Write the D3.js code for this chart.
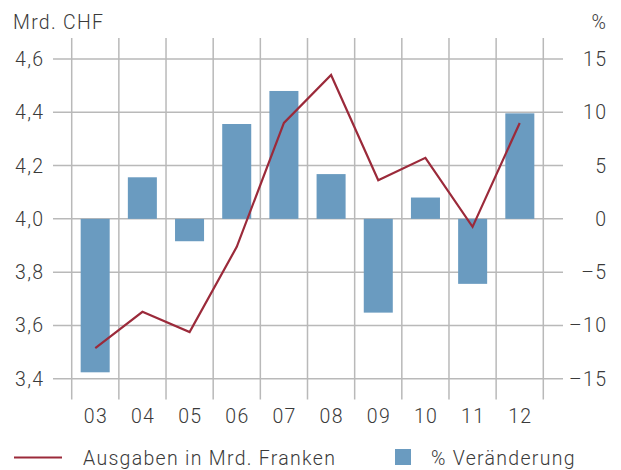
<!DOCTYPE html>
<html>
<head>
<meta charset="utf-8">
<script src="https://cdn.jsdelivr.net/npm/d3@7"></script>
<style>
  body { margin: 0; background: #fff; }
  svg text { font-family: Roboto, "Liberation Sans", sans-serif; font-weight: 300; fill: #3a3a3a; letter-spacing: 1.3px; }
</style>
</head>
<body>
<div id="chart"></div>
<script>
// data
var years = ["03", "04", "05", "06", "07", "08", "09", "10", "11", "12"];
var ausgaben = [3.515, 3.651, 3.575, 3.895, 4.36, 4.54, 4.145, 4.229, 3.97, 4.36];   // Mrd. CHF
var veraenderung = [-14.4, 3.9, -2.1, 8.9, 12.0, 4.2, -8.8, 2.0, -6.1, 9.9];         // %
var leftTicks = [3.4, 3.6, 3.8, 4.0, 4.2, 4.4, 4.6];
var rightTicks = [-15, -10, -5, 0, 5, 10, 15];

var W = 621, H = 470;
var lineColor = "#9b2a3a",
    barColor = "#6a9bc0",
    gridColor = "#b9b9b9";

var svg = d3.select("#chart").append("svg")
    .attr("width", W)
    .attr("height", H);

// scales
var x = d3.scaleBand()
    .domain(years)
    .range([71.7, 543.3])
    .paddingInner(0.385)
    .paddingOuter(0.19);

var xb = d3.scaleBand().domain(years).range([71.7, 543.3]);  // grid cells

var yL = d3.scaleLinear().domain([3.4, 4.6]).range([378.7, 59]);
var yR = d3.scaleLinear().domain([-15, 15]).range([378.7, 59]);

var fmt = function(d) { return d3.format(".1f")(d).replace(".", ","); };

// horizontal grid
svg.append("g").selectAll("line")
    .data(leftTicks)
    .enter().append("line")
    .attr("x1", 53).attr("x2", 563)
    .attr("y1", function(d) { return yL(d); })
    .attr("y2", function(d) { return yL(d); })
    .attr("stroke", gridColor)
    .attr("stroke-width", 1.5);

// vertical grid
var vx = years.map(function(d) { return xb(d); }).concat([xb.range()[1]]);
svg.append("g").selectAll("line")
    .data(vx)
    .enter().append("line")
    .attr("x1", function(d) { return d; })
    .attr("x2", function(d) { return d; })
    .attr("y1", 38).attr("y2", 399.5)
    .attr("stroke", gridColor)
    .attr("stroke-width", 1.5);

// bars
svg.append("g").selectAll("rect")
    .data(veraenderung)
    .enter().append("rect")
    .attr("x", function(d, i) { return x(years[i]); })
    .attr("width", x.bandwidth())
    .attr("y", function(d) { return yR(Math.max(0, d)); })
    .attr("height", function(d) { return Math.abs(yR(d) - yR(0)); })
    .attr("fill", barColor);

// line
svg.append("path")
    .datum(ausgaben)
    .attr("d", d3.line()
        .x(function(d, i) { return xb(years[i]) + xb.bandwidth() / 2; })
        .y(function(d) { return yL(d); }))
    .attr("fill", "none")
    .attr("stroke", lineColor)
    .attr("stroke-width", 2.2)
    .attr("stroke-linejoin", "miter");

// left axis labels
svg.append("g").selectAll("text")
    .data(leftTicks)
    .enter().append("text")
    .attr("x", 44.3)
    .attr("y", function(d) { return yL(d); })
    .attr("dy", "0.36em")
    .attr("text-anchor", "end")
    .style("font-size", "19.5px")
    .text(fmt);

// right axis labels
svg.append("g").selectAll("text")
    .data(rightTicks)
    .enter().append("text")
    .attr("x", 607.3)
    .attr("y", function(d) { return yR(d); })
    .attr("dy", "0.36em")
    .attr("text-anchor", "end")
    .style("font-size", "19.5px")
    .text(function(d) { return d < 0 ? "\u2013" + Math.abs(d) : d; });

// x labels
svg.append("g").selectAll("text")
    .data(years)
    .enter().append("text")
    .attr("x", function(d) { return xb(d) + xb.bandwidth() / 2 + 0.65; })
    .attr("y", 423)
    .attr("text-anchor", "middle")
    .style("font-size", "19.5px")
    .text(function(d) { return d; });

// unit titles
svg.append("text").attr("x", 13).attr("y", 29)
    .style("font-size", "19.5px").text("Mrd. CHF");
svg.append("text").attr("x", 607.3).attr("y", 29)
    .attr("text-anchor", "end")
    .style("font-size", "19.5px").text("%");

// legend
svg.append("line")
    .attr("x1", 14).attr("x2", 62)
    .attr("y1", 457.5).attr("y2", 457.5)
    .attr("stroke", lineColor)
    .attr("stroke-width", 2.2);
svg.append("text").attr("x", 83).attr("y", 464.5)
    .style("font-size", "19.5px").text("Ausgaben in Mrd. Franken");

svg.append("rect")
    .attr("x", 395).attr("y", 449)
    .attr("width", 16).attr("height", 16)
    .attr("fill", barColor);
svg.append("text").attr("x", 431).attr("y", 464.5)
    .style("font-size", "19.5px").text("% Veränderung");
</script>
</body>
</html>
